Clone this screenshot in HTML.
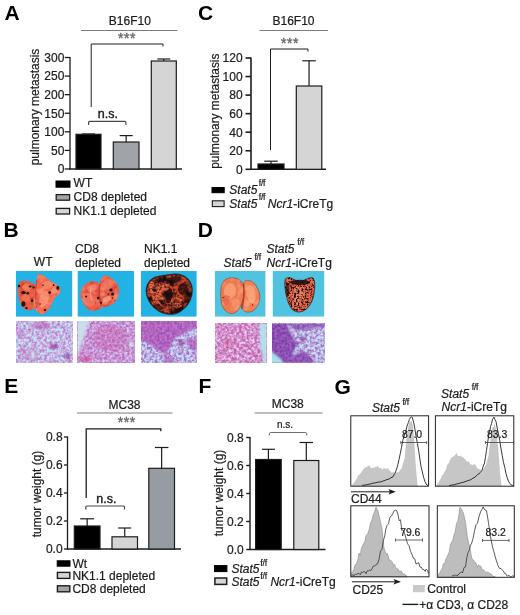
<!DOCTYPE html>
<html lang="en">
<head>
<meta charset="utf-8">
<title>Figure</title>
<style>
html,body{margin:0;padding:0;background:#fff;}
body{width:520px;height:615px;overflow:hidden;}
svg{display:block;font-family:"Liberation Sans",sans-serif;}
svg text{stroke:#1d1d1d;stroke-width:.22px;}
svg text.st{stroke:#686868;stroke-width:.4px;}
svg text.ns{stroke-width:.4px;}
svg text.pl{stroke:none;}
</style>
</head>
<body>
<svg width="520" height="615" viewBox="0 0 520 615">
<rect width="520" height="615" fill="#fff"/>
<defs>
<filter id="b03" x="-10%" y="-10%" width="120%" height="120%"><feGaussianBlur stdDeviation="0.35"/></filter>
<filter id="b06" x="-10%" y="-10%" width="120%" height="120%"><feGaussianBlur stdDeviation="0.6"/></filter>
<filter id="b1" x="-20%" y="-20%" width="140%" height="140%"><feGaussianBlur stdDeviation="1"/></filter>
<filter id="b2" x="-30%" y="-30%" width="160%" height="160%"><feGaussianBlur stdDeviation="2"/></filter>
<filter id="hA" x="0" y="0" width="100%" height="100%" color-interpolation-filters="sRGB">
 <feTurbulence type="fractalNoise" baseFrequency="0.38" numOctaves="2" seed="4" result="n"/>
 <feColorMatrix in="n" type="matrix" values="2.6 0 0 0 -0.880  0 2.6 0 0 -0.8  0 0 0 0 0  0 0 0 0 1"/>
 <feColorMatrix type="matrix" values="-0.020 0.12 0 0 0.720  -0.410 -0.06 0 0 0.920  -0.160 -0.05 0 0 0.985  0 0 0 0 1"/>
 <feGaussianBlur stdDeviation="0.45"/>
</filter>
<filter id="hB" x="0" y="0" width="100%" height="100%" color-interpolation-filters="sRGB">
 <feTurbulence type="fractalNoise" baseFrequency="0.4" numOctaves="2" seed="11" result="n"/>
 <feColorMatrix in="n" type="matrix" values="2.3 0 0 0 -0.550  0 2.6 0 0 -0.8  0 0 0 0 0  0 0 0 0 1"/>
 <feColorMatrix type="matrix" values="-0.160 0.12 0 0 0.820  -0.360 -0.06 0 0 0.830  -0.180 -0.05 0 0 0.965  0 0 0 0 1"/>
 <feGaussianBlur stdDeviation="0.45"/>
</filter>
<filter id="hC" x="0" y="0" width="100%" height="100%" color-interpolation-filters="sRGB">
 <feTurbulence type="fractalNoise" baseFrequency="0.38" numOctaves="2" seed="23" result="n"/>
 <feColorMatrix in="n" type="matrix" values="2.6 0 0 0 -0.900  0 2.6 0 0 -0.8  0 0 0 0 0  0 0 0 0 1"/>
 <feColorMatrix type="matrix" values="-0.120 0.12 0 0 0.720  -0.460 -0.06 0 0 0.910  -0.170 -0.05 0 0 0.975  0 0 0 0 1"/>
 <feGaussianBlur stdDeviation="0.45"/>
</filter>
<filter id="hD" x="0" y="0" width="100%" height="100%" color-interpolation-filters="sRGB">
 <feTurbulence type="fractalNoise" baseFrequency="0.38" numOctaves="2" seed="31" result="n"/>
 <feColorMatrix in="n" type="matrix" values="2.4 0 0 0 -0.600  0 2.6 0 0 -0.8  0 0 0 0 0  0 0 0 0 1"/>
 <feColorMatrix type="matrix" values="-0.120 0.06 0 0 0.870  -0.470 -0.04 0 0 0.870  -0.250 -0.04 0 0 0.970  0 0 0 0 1"/>
 <feGaussianBlur stdDeviation="0.45"/>
</filter>
<filter id="hP" x="0" y="0" width="100%" height="100%" color-interpolation-filters="sRGB">
 <feTurbulence type="fractalNoise" baseFrequency="0.4" numOctaves="2" seed="41" result="n"/>
 <feColorMatrix in="n" type="matrix" values="2.4 0 0 0 -0.700  0 2.6 0 0 -0.8  0 0 0 0 0  0 0 0 0 1"/>
 <feColorMatrix type="matrix" values="-0.140 0.06 0 0 0.730  -0.140 0 0 0 0.460  -0.100 0 0 0 0.800  0 0 0 0 1"/>
 <feGaussianBlur stdDeviation="0.45"/>
</filter>
<filter id="hP2" x="0" y="0" width="100%" height="100%" color-interpolation-filters="sRGB">
 <feTurbulence type="fractalNoise" baseFrequency="0.4" numOctaves="2" seed="43" result="n"/>
 <feColorMatrix in="n" type="matrix" values="2.4 0 0 0 -0.700  0 2.6 0 0 -0.8  0 0 0 0 0  0 0 0 0 1"/>
 <feColorMatrix type="matrix" values="-0.140 0.05 0 0 0.595  -0.140 0 0 0 0.380  -0.120 0 0 0 0.760  0 0 0 0 1"/>
 <feGaussianBlur stdDeviation="0.45"/>
</filter>
<filter id="mot" x="0" y="0" width="100%" height="100%" color-interpolation-filters="sRGB">
 <feTurbulence type="fractalNoise" baseFrequency="0.16" numOctaves="2" seed="5" result="n"/>
 <feColorMatrix in="n" type="matrix" values="0 0 0 0 0.99  0 0 0 0 0.80  0 0 0 0 0.62  3.0 0 0 0 -1.35"/>
 <feComposite in2="SourceGraphic" operator="in"/>
</filter>
<filter id="motd" x="0" y="0" width="100%" height="100%" color-interpolation-filters="sRGB">
 <feTurbulence type="fractalNoise" baseFrequency="0.2" numOctaves="2" seed="9" result="n"/>
 <feColorMatrix in="n" type="matrix" values="0 0 0 0 0.70  0 0 0 0 0.18  0 0 0 0 0.12  0 3.0 0 0 -1.4"/>
 <feComposite in2="SourceGraphic" operator="in"/>
</filter>
<filter id="dk" x="0" y="0" width="100%" height="100%" color-interpolation-filters="sRGB">
 <feTurbulence type="fractalNoise" baseFrequency="0.13" numOctaves="3" seed="3" result="n"/>
 <feColorMatrix in="n" type="matrix" values="0 0 0 0 0.10  0 0 0 0 0.04  0 0 0 0 0.03  4.0 0 0 0 -1.9"/>
 <feComposite in2="SourceGraphic" operator="in"/>
</filter>
<filter id="spk" x="0" y="0" width="100%" height="100%" color-interpolation-filters="sRGB">
 <feTurbulence type="fractalNoise" baseFrequency="0.45" numOctaves="2" seed="7" result="n"/>
 <feColorMatrix in="n" type="matrix" values="0 0 0 0 0.12  0 0 0 0 0.05  0 0 0 0 0.04  3.5 0 0 0 -1.55"/>
 <feComposite in2="SourceGraphic" operator="in"/>
</filter>
<filter id="spk2" x="0" y="0" width="100%" height="100%" color-interpolation-filters="sRGB">
 <feTurbulence type="fractalNoise" baseFrequency="0.55" numOctaves="2" seed="19" result="n"/>
 <feColorMatrix in="n" type="matrix" values="0 0 0 0 0.10  0 0 0 0 0.04  0 0 0 0 0.04  4.0 0 0 0 -1.75"/>
 <feComposite in2="SourceGraphic" operator="in"/>
</filter>
</defs>
<text x="4.4" y="19.8" font-size="21" font-weight="bold" fill="#000" class="pl">A</text>
<text x="129.8" y="24.6" font-size="12" text-anchor="middle" fill="#1d1d1d">B16F10</text>
<line x1="81" y1="30.5" x2="177.5" y2="30.5" stroke="#7c7c7c" stroke-width="1.0"/>
<text x="127" y="42.5" font-size="14" text-anchor="middle" fill="#686868" class="st" letter-spacing="0.6">***</text>
<path d="M91.2 107 V44 H163 V46.5" fill="none" stroke="#1d1d1d" stroke-width="1.0"/>
<line x1="70" y1="56.9" x2="70" y2="169.6" stroke="#1d1d1d" stroke-width="1.3"/>
<line x1="69.4" y1="169" x2="182" y2="169" stroke="#1d1d1d" stroke-width="1.3"/>
<line x1="64.7" y1="57.5" x2="70" y2="57.5" stroke="#1d1d1d" stroke-width="1.3"/>
<text x="64.4" y="61.8" font-size="12" text-anchor="end" fill="#1d1d1d">300</text>
<line x1="64.7" y1="76.08" x2="70" y2="76.08" stroke="#1d1d1d" stroke-width="1.3"/>
<text x="64.4" y="80.38" font-size="12" text-anchor="end" fill="#1d1d1d">250</text>
<line x1="64.7" y1="94.66" x2="70" y2="94.66" stroke="#1d1d1d" stroke-width="1.3"/>
<text x="64.4" y="98.96" font-size="12" text-anchor="end" fill="#1d1d1d">200</text>
<line x1="64.7" y1="113.24" x2="70" y2="113.24" stroke="#1d1d1d" stroke-width="1.3"/>
<text x="64.4" y="117.53999999999999" font-size="12" text-anchor="end" fill="#1d1d1d">150</text>
<line x1="64.7" y1="131.82" x2="70" y2="131.82" stroke="#1d1d1d" stroke-width="1.3"/>
<text x="64.4" y="136.12" font-size="12" text-anchor="end" fill="#1d1d1d">100</text>
<line x1="64.7" y1="150.39999999999998" x2="70" y2="150.39999999999998" stroke="#1d1d1d" stroke-width="1.3"/>
<text x="64.4" y="154.7" font-size="12" text-anchor="end" fill="#1d1d1d">50</text>
<line x1="64.7" y1="168.98" x2="70" y2="168.98" stroke="#1d1d1d" stroke-width="1.3"/>
<text x="64.4" y="173.28" font-size="12" text-anchor="end" fill="#1d1d1d">0</text>
<text transform="translate(39,107) rotate(-90)" font-size="12" text-anchor="middle" fill="#1d1d1d">pulmonary metastasis</text>
<rect x="76" y="134.3" width="25" height="34.69999999999999" fill="#000" stroke="#1d1d1d" stroke-width="1.2"/>
<line x1="82" y1="133.9" x2="95" y2="133.9" stroke="#1d1d1d" stroke-width="1.0"/>
<rect x="113.3" y="142" width="25.700000000000003" height="27" fill="#a0a3a8" stroke="#1d1d1d" stroke-width="1.2"/>
<line x1="126.15" y1="142" x2="126.15" y2="135.6" stroke="#1d1d1d" stroke-width="1.2"/>
<line x1="119.65" y1="135.6" x2="132.65" y2="135.6" stroke="#1d1d1d" stroke-width="1.2"/>
<rect x="151.3" y="61" width="25.0" height="108" fill="#d5d5d6" stroke="#1d1d1d" stroke-width="1.2"/>
<line x1="163.8" y1="61" x2="163.8" y2="59" stroke="#1d1d1d" stroke-width="1.2"/>
<line x1="157.3" y1="59" x2="170.3" y2="59" stroke="#1d1d1d" stroke-width="1.2"/>
<text x="107.8" y="117.8" font-size="12.5" text-anchor="middle" fill="#1d1d1d" class="ns">n.s.</text>
<path d="M88.6 124.9 V122.4 Q88.6 121.4 89.6 121.4 H124.9 Q125.9 121.4 125.9 122.4 V124.9" fill="none" stroke="#4a4a4a" stroke-width="1.2"/>
<rect x="56" y="181" width="14" height="6.2" fill="#000" stroke="#000" stroke-width="1"/>
<rect x="56.2" y="194.6" width="13.4" height="5.6" fill="#a0a3a8" stroke="#1d1d1d" stroke-width="1.3"/>
<rect x="56.2" y="208.4" width="13.4" height="5.6" fill="#d5d5d6" stroke="#1d1d1d" stroke-width="1.3"/>
<text x="73.6" y="187.4" font-size="12" fill="#1d1d1d">WT</text>
<text x="73.6" y="201.0" font-size="12" fill="#1d1d1d">CD8 depleted</text>
<text x="73.6" y="214.8" font-size="12" fill="#1d1d1d">NK1.1 depleted</text>
<text x="198" y="20" font-size="21" font-weight="bold" fill="#000" class="pl">C</text>
<text x="293.5" y="24.6" font-size="12" text-anchor="middle" fill="#1d1d1d">B16F10</text>
<line x1="259.5" y1="30.5" x2="328" y2="30.5" stroke="#7c7c7c" stroke-width="1.0"/>
<text x="290" y="47.8" font-size="14" text-anchor="middle" fill="#686868" class="st" letter-spacing="0.6">***</text>
<path d="M270.5 150 V49 H308 V51.5" fill="none" stroke="#1d1d1d" stroke-width="1.0"/>
<line x1="251" y1="57.4" x2="251" y2="169.9" stroke="#1d1d1d" stroke-width="1.6"/>
<line x1="250.4" y1="169.3" x2="326" y2="169.3" stroke="#1d1d1d" stroke-width="1.6"/>
<line x1="245.5" y1="58.0" x2="251" y2="58.0" stroke="#1d1d1d" stroke-width="1.6"/>
<text x="242.6" y="62.3" font-size="12" text-anchor="end" fill="#1d1d1d">120</text>
<line x1="245.5" y1="76.55" x2="251" y2="76.55" stroke="#1d1d1d" stroke-width="1.6"/>
<text x="242.6" y="80.85" font-size="12" text-anchor="end" fill="#1d1d1d">100</text>
<line x1="245.5" y1="95.1" x2="251" y2="95.1" stroke="#1d1d1d" stroke-width="1.6"/>
<text x="242.6" y="99.39999999999999" font-size="12" text-anchor="end" fill="#1d1d1d">80</text>
<line x1="245.5" y1="113.65" x2="251" y2="113.65" stroke="#1d1d1d" stroke-width="1.6"/>
<text x="242.6" y="117.95" font-size="12" text-anchor="end" fill="#1d1d1d">60</text>
<line x1="245.5" y1="132.2" x2="251" y2="132.2" stroke="#1d1d1d" stroke-width="1.6"/>
<text x="242.6" y="136.5" font-size="12" text-anchor="end" fill="#1d1d1d">40</text>
<line x1="245.5" y1="150.75" x2="251" y2="150.75" stroke="#1d1d1d" stroke-width="1.6"/>
<text x="242.6" y="155.05" font-size="12" text-anchor="end" fill="#1d1d1d">20</text>
<line x1="245.5" y1="169.3" x2="251" y2="169.3" stroke="#1d1d1d" stroke-width="1.6"/>
<text x="242.6" y="173.60000000000002" font-size="12" text-anchor="end" fill="#1d1d1d">0</text>
<text transform="translate(219,111.2) rotate(-90)" font-size="11.85" text-anchor="middle" fill="#1d1d1d">pulmonary metastasis</text>
<rect x="258" y="164" width="26" height="5.300000000000011" fill="#000" stroke="#1d1d1d" stroke-width="1.2"/>
<line x1="271.0" y1="164" x2="271.0" y2="161.2" stroke="#1d1d1d" stroke-width="1.2"/>
<line x1="264.25" y1="161.2" x2="277.75" y2="161.2" stroke="#1d1d1d" stroke-width="1.2"/>
<rect x="296.3" y="86" width="25.5" height="83.30000000000001" fill="#d5d5d6" stroke="#1d1d1d" stroke-width="1.2"/>
<line x1="309.05" y1="86" x2="309.05" y2="60.8" stroke="#1d1d1d" stroke-width="1.2"/>
<line x1="302.3" y1="60.8" x2="315.8" y2="60.8" stroke="#1d1d1d" stroke-width="1.2"/>
<rect x="212" y="187.5" width="12.2" height="5.2" fill="#000" stroke="#000" stroke-width="1"/>
<rect x="212.3" y="200.8" width="11.8" height="5.8" fill="#d5d5d6" stroke="#1d1d1d" stroke-width="1.1"/>
<text x="229.3" y="193.6" font-size="12" fill="#1d1d1d"><tspan font-style="italic">Stat5</tspan><tspan font-size="8.7" font-style="normal" letter-spacing="-0.25" dx="1.4" dy="-7.8">f/f</tspan></text>
<text x="229.3" y="208.0" font-size="12" fill="#1d1d1d"><tspan font-style="italic">Stat5</tspan><tspan font-size="8.7" font-style="normal" letter-spacing="-0.25" dx="1.4" dy="-7.8">f/f</tspan><tspan dx="2.6" dy="7.8" font-style="italic">Ncr1</tspan>-iCreTg</text>
<text x="3.6" y="236.9" font-size="21" font-weight="bold" fill="#000" class="pl">B</text>
<text x="43.2" y="266.4" font-size="12" text-anchor="middle" fill="#1d1d1d">WT</text>
<text x="75.0" y="252.5" font-size="12" fill="#1d1d1d">CD8</text>
<text x="75.0" y="266.5" font-size="12" fill="#1d1d1d">depleted</text>
<text x="144.0" y="252.5" font-size="12" fill="#1d1d1d">NK1.1</text>
<text x="144.0" y="266.5" font-size="12" fill="#1d1d1d">depleted</text>
<clipPath id="pB1"><rect x="16" y="271" width="56.2" height="45.6"/></clipPath>
<rect x="16" y="271" width="56.2" height="45.6" fill="#22b2e4"/>
<g clip-path="url(#pB1)"><g filter="url(#b06)">
<path d="M18.1 285.2 C18.5 283.8 19.2 282.6 20.1 281.8 C21.0 281.0 22.1 280.6 23.5 280.5 C24.9 280.4 27.1 280.6 28.8 281.2 C30.5 281.8 32.2 283.0 33.6 283.8 C35.0 284.6 36.2 284.0 37.0 286.0 C37.8 288.0 38.3 292.7 38.5 296.0 C38.7 299.3 38.8 303.8 38.0 306.0 C37.2 308.2 35.2 308.3 33.5 309.0 C31.8 309.7 29.2 310.4 27.5 310.2 C25.8 310.0 24.7 309.2 23.5 308.0 C22.3 306.8 21.0 304.7 20.1 302.7 C19.2 300.7 18.5 298.1 18.1 296.0 C17.7 293.9 17.6 291.8 17.6 290.0 C17.6 288.2 17.7 286.6 18.1 285.2Z" fill="#ec5a44"/>
<path d="M38.3 274.4 C39.2 273.8 40.5 274.1 42.3 275.0 C44.1 275.9 47.0 278.4 49.0 279.8 C51.0 281.2 52.7 282.1 54.4 283.2 C56.1 284.3 58.1 285.4 59.1 286.5 C60.1 287.6 60.5 288.6 60.5 289.9 C60.5 291.1 60.0 292.8 59.1 294.0 C58.2 295.2 56.1 296.1 55.1 297.3 C54.1 298.5 53.9 299.7 53.1 301.3 C52.3 302.9 51.5 304.9 50.4 306.7 C49.3 308.5 47.6 310.9 46.3 312.1 C44.9 313.3 43.6 314.0 42.3 314.1 C41.0 314.2 39.4 313.7 38.3 312.8 C37.2 311.9 36.2 310.8 35.6 308.7 C35.0 306.6 34.5 303.1 34.5 300.0 C34.5 296.9 35.2 292.7 35.5 290.0 C35.8 287.3 36.0 285.7 36.2 283.8 C36.4 281.9 36.5 280.1 36.9 278.5 C37.2 276.9 37.4 275.0 38.3 274.4Z" fill="#f3664e"/>
<path d="M18.1 285.2 C18.5 283.8 19.2 282.6 20.1 281.8 C21.0 281.0 22.1 280.6 23.5 280.5 C24.9 280.4 27.1 280.6 28.8 281.2 C30.5 281.8 32.2 283.0 33.6 283.8 C35.0 284.6 36.2 284.0 37.0 286.0 C37.8 288.0 38.3 292.7 38.5 296.0 C38.7 299.3 38.8 303.8 38.0 306.0 C37.2 308.2 35.2 308.3 33.5 309.0 C31.8 309.7 29.2 310.4 27.5 310.2 C25.8 310.0 24.7 309.2 23.5 308.0 C22.3 306.8 21.0 304.7 20.1 302.7 C19.2 300.7 18.5 298.1 18.1 296.0 C17.7 293.9 17.6 291.8 17.6 290.0 C17.6 288.2 17.7 286.6 18.1 285.2Z" fill="#000" filter="url(#motd)" opacity="0.8"/>
<path d="M38.3 274.4 C39.2 273.8 40.5 274.1 42.3 275.0 C44.1 275.9 47.0 278.4 49.0 279.8 C51.0 281.2 52.7 282.1 54.4 283.2 C56.1 284.3 58.1 285.4 59.1 286.5 C60.1 287.6 60.5 288.6 60.5 289.9 C60.5 291.1 60.0 292.8 59.1 294.0 C58.2 295.2 56.1 296.1 55.1 297.3 C54.1 298.5 53.9 299.7 53.1 301.3 C52.3 302.9 51.5 304.9 50.4 306.7 C49.3 308.5 47.6 310.9 46.3 312.1 C44.9 313.3 43.6 314.0 42.3 314.1 C41.0 314.2 39.4 313.7 38.3 312.8 C37.2 311.9 36.2 310.8 35.6 308.7 C35.0 306.6 34.5 303.1 34.5 300.0 C34.5 296.9 35.2 292.7 35.5 290.0 C35.8 287.3 36.0 285.7 36.2 283.8 C36.4 281.9 36.5 280.1 36.9 278.5 C37.2 276.9 37.4 275.0 38.3 274.4Z" fill="#000" filter="url(#mot)" opacity="0.4"/>
<path d="M18.1 285.2 C18.5 283.8 19.2 282.6 20.1 281.8 C21.0 281.0 22.1 280.6 23.5 280.5 C24.9 280.4 27.1 280.6 28.8 281.2 C30.5 281.8 32.2 283.0 33.6 283.8 C35.0 284.6 36.2 284.0 37.0 286.0 C37.8 288.0 38.3 292.7 38.5 296.0 C38.7 299.3 38.8 303.8 38.0 306.0 C37.2 308.2 35.2 308.3 33.5 309.0 C31.8 309.7 29.2 310.4 27.5 310.2 C25.8 310.0 24.7 309.2 23.5 308.0 C22.3 306.8 21.0 304.7 20.1 302.7 C19.2 300.7 18.5 298.1 18.1 296.0 C17.7 293.9 17.6 291.8 17.6 290.0 C17.6 288.2 17.7 286.6 18.1 285.2Z" fill="#000" filter="url(#mot)" opacity="0.25"/>
<ellipse cx="27" cy="287" rx="5" ry="3" fill="#f48a60" opacity="0.7"/>
<ellipse cx="26" cy="298" rx="4" ry="4" fill="#f2805c" opacity="0.6"/>
<ellipse cx="44" cy="299" rx="4.5" ry="8.5" fill="#f9a888" opacity="0.55" transform="rotate(15 44 299)"/>
<ellipse cx="47" cy="285" rx="5" ry="4" fill="#f58e6c" opacity="0.6"/>
<ellipse cx="54" cy="291" rx="3" ry="3" fill="#f7a080" opacity="0.6"/>
<path d="M36.8 280 C35.6 288 35.2 298 36.4 308" fill="none" stroke="#c2402e" stroke-width="1.3" opacity="0.7"/>
<ellipse cx="18.9" cy="286" rx="1.1" ry="1.3" fill="#2a1210"/>
<ellipse cx="23.5" cy="292.6" rx="2.4" ry="1.7" fill="#2a1210"/>
<ellipse cx="27.8" cy="293.3" rx="1.4" ry="1.2" fill="#2a1210"/>
<ellipse cx="30.2" cy="286.5" rx="1.5" ry="1.1" fill="#2a1210"/>
<ellipse cx="33.6" cy="287.4" rx="1.1" ry="1.0" fill="#2a1210"/>
<ellipse cx="23.3" cy="304" rx="2.0" ry="2.8" fill="#2a1210"/>
<ellipse cx="26.4" cy="308" rx="1.4" ry="1.1" fill="#2a1210"/>
<ellipse cx="32.2" cy="300.7" rx="1.2" ry="1.6" fill="#2a1210"/>
<ellipse cx="49.7" cy="292.6" rx="1.4" ry="1.3" fill="#2a1210"/>
<ellipse cx="57.8" cy="287.9" rx="1.5" ry="1.9" fill="#2a1210"/>
<ellipse cx="53.7" cy="285.2" rx="0.9" ry="0.9" fill="#2a1210"/>
<ellipse cx="45" cy="310" rx="1.2" ry="1.0" fill="#2a1210"/>
<ellipse cx="43" cy="285.2" rx="0.8" ry="0.8" fill="#2a1210"/>
<ellipse cx="40" cy="304" rx="0.8" ry="0.8" fill="#2a1210"/>
</g></g>
<clipPath id="pB2"><rect x="77.7" y="271" width="56.3" height="45.6"/></clipPath>
<rect x="77.7" y="271" width="56.3" height="45.6" fill="#22b2e4"/>
<g clip-path="url(#pB2)"><g filter="url(#b06)">
<path d="M80.7 294.0 C80.8 292.1 81.1 289.7 82.1 287.9 C83.1 286.1 85.1 284.3 86.8 283.2 C88.5 282.1 90.5 281.4 92.2 281.2 C93.9 281.0 95.7 281.3 96.9 281.8 C98.1 282.3 98.7 284.6 99.4 284.2 C100.1 283.8 100.1 280.5 100.9 279.1 C101.7 277.7 103.0 276.2 104.3 275.8 C105.6 275.4 107.4 275.7 109.0 276.4 C110.6 277.1 112.2 278.3 113.7 279.8 C115.2 281.3 116.9 283.4 117.8 285.2 C118.7 287.0 119.1 288.6 119.1 290.6 C119.1 292.6 118.6 295.3 117.8 297.3 C117.0 299.3 115.8 301.4 114.4 302.7 C113.1 304.0 111.2 304.7 109.7 305.4 C108.2 306.1 107.1 306.3 105.6 306.7 C104.1 307.1 102.6 307.3 100.9 308.0 C99.2 308.7 97.5 310.5 95.6 310.8 C93.7 311.1 91.3 310.9 89.5 310.0 C87.7 309.1 86.1 307.2 84.8 305.4 C83.5 303.6 82.1 301.2 81.4 299.3 C80.7 297.4 80.6 295.9 80.7 294.0Z" fill="#ee5e4c"/>
<path d="M80.7 294.0 C80.8 292.1 81.1 289.7 82.1 287.9 C83.1 286.1 85.1 284.3 86.8 283.2 C88.5 282.1 90.5 281.4 92.2 281.2 C93.9 281.0 95.7 281.3 96.9 281.8 C98.1 282.3 98.7 284.6 99.4 284.2 C100.1 283.8 100.1 280.5 100.9 279.1 C101.7 277.7 103.0 276.2 104.3 275.8 C105.6 275.4 107.4 275.7 109.0 276.4 C110.6 277.1 112.2 278.3 113.7 279.8 C115.2 281.3 116.9 283.4 117.8 285.2 C118.7 287.0 119.1 288.6 119.1 290.6 C119.1 292.6 118.6 295.3 117.8 297.3 C117.0 299.3 115.8 301.4 114.4 302.7 C113.1 304.0 111.2 304.7 109.7 305.4 C108.2 306.1 107.1 306.3 105.6 306.7 C104.1 307.1 102.6 307.3 100.9 308.0 C99.2 308.7 97.5 310.5 95.6 310.8 C93.7 311.1 91.3 310.9 89.5 310.0 C87.7 309.1 86.1 307.2 84.8 305.4 C83.5 303.6 82.1 301.2 81.4 299.3 C80.7 297.4 80.6 295.9 80.7 294.0Z" fill="#000" filter="url(#mot)" opacity="0.35"/>
<path d="M80.7 294.0 C80.8 292.1 81.1 289.7 82.1 287.9 C83.1 286.1 85.1 284.3 86.8 283.2 C88.5 282.1 90.5 281.4 92.2 281.2 C93.9 281.0 95.7 281.3 96.9 281.8 C98.1 282.3 98.7 284.6 99.4 284.2 C100.1 283.8 100.1 280.5 100.9 279.1 C101.7 277.7 103.0 276.2 104.3 275.8 C105.6 275.4 107.4 275.7 109.0 276.4 C110.6 277.1 112.2 278.3 113.7 279.8 C115.2 281.3 116.9 283.4 117.8 285.2 C118.7 287.0 119.1 288.6 119.1 290.6 C119.1 292.6 118.6 295.3 117.8 297.3 C117.0 299.3 115.8 301.4 114.4 302.7 C113.1 304.0 111.2 304.7 109.7 305.4 C108.2 306.1 107.1 306.3 105.6 306.7 C104.1 307.1 102.6 307.3 100.9 308.0 C99.2 308.7 97.5 310.5 95.6 310.8 C93.7 311.1 91.3 310.9 89.5 310.0 C87.7 309.1 86.1 307.2 84.8 305.4 C83.5 303.6 82.1 301.2 81.4 299.3 C80.7 297.4 80.6 295.9 80.7 294.0Z" fill="#000" filter="url(#motd)" opacity="0.5"/>
<ellipse cx="89" cy="300" rx="6" ry="7" fill="#f47a64" opacity="0.7" transform="rotate(-20 89 300)"/>
<ellipse cx="92" cy="288" rx="5" ry="3.5" fill="#f6866c" opacity="0.7" transform="rotate(-20 92 288)"/>
<ellipse cx="108" cy="284" rx="5" ry="5" fill="#f58068" opacity="0.7"/>
<ellipse cx="107" cy="299" rx="4.5" ry="2.6" fill="#f9b898" opacity="0.6" transform="rotate(-15 107 299)"/>
<ellipse cx="112" cy="292" rx="3" ry="4" fill="#d84a3c" opacity="0.6"/>
<path d="M100 284 C98.5 291 99 299 101.5 306" fill="none" stroke="#b8382c" stroke-width="1.6" opacity="0.75"/>
<path d="M91 287 C90 292 90.5 297 92 301" fill="none" stroke="#f9b0a0" stroke-width="0.9" opacity="0.8"/>
<ellipse cx="86.1" cy="296.6" rx="1.0" ry="1.0" fill="#2a1210"/>
<ellipse cx="111" cy="289.9" rx="1.7" ry="1.5" fill="#2a1210"/>
<ellipse cx="112.6" cy="293.9" rx="1.5" ry="1.5" fill="#2a1210"/>
<ellipse cx="98.2" cy="298" rx="1.3" ry="1.5" fill="#2a1210"/>
<ellipse cx="100.9" cy="302.7" rx="1.2" ry="1.0" fill="#2a1210"/>
<ellipse cx="112.4" cy="298" rx="0.8" ry="0.8" fill="#2a1210"/>
<ellipse cx="108.5" cy="294" rx="0.8" ry="0.8" fill="#2a1210"/>
</g></g>
<clipPath id="pB3"><rect x="141" y="271" width="55.6" height="45.6"/></clipPath>
<rect x="141" y="271" width="55.6" height="45.6" fill="#22b2e4"/>
<g clip-path="url(#pB3)"><g filter="url(#b06)">
<path d="M146.4 291.0 C146.4 289.0 146.8 286.8 147.5 285.0 C148.2 283.2 149.2 281.8 150.5 280.5 C151.8 279.2 153.4 278.2 155.0 277.5 C156.6 276.8 158.3 276.5 160.0 276.2 C161.7 275.9 163.5 275.8 165.0 275.6 C166.5 275.4 167.3 275.0 169.0 274.8 C170.7 274.6 173.0 274.2 175.0 274.2 C177.0 274.2 179.2 274.4 181.0 275.0 C182.8 275.6 184.5 276.3 186.0 277.5 C187.5 278.7 189.0 280.2 190.0 282.0 C191.0 283.8 191.7 286.0 192.0 288.0 C192.3 290.0 192.1 292.0 191.8 294.0 C191.5 296.0 190.8 298.2 190.0 300.0 C189.2 301.8 188.2 303.5 187.0 305.0 C185.8 306.5 184.5 307.8 183.0 309.0 C181.5 310.2 179.8 311.7 178.0 312.5 C176.2 313.3 174.0 313.8 172.0 314.0 C170.0 314.2 168.0 313.9 166.0 313.5 C164.0 313.1 161.8 312.4 160.0 311.5 C158.2 310.6 156.6 309.4 155.0 308.0 C153.4 306.6 151.8 304.8 150.5 303.0 C149.2 301.2 148.2 299.0 147.5 297.0 C146.8 295.0 146.4 293.0 146.4 291.0Z" fill="#c8462f"/>
<ellipse cx="160" cy="294" rx="9" ry="10" fill="#ee6848" opacity="0.85"/>
<ellipse cx="176" cy="303" rx="7" ry="6" fill="#e86044" opacity="0.8"/>
<ellipse cx="152" cy="287" rx="3.5" ry="6" fill="#f07050" opacity="0.8"/>
<ellipse cx="165" cy="283" rx="4" ry="3" fill="#d8603c" opacity="0.6"/>
<path d="M146.4 291.0 C146.4 289.0 146.8 286.8 147.5 285.0 C148.2 283.2 149.2 281.8 150.5 280.5 C151.8 279.2 153.4 278.2 155.0 277.5 C156.6 276.8 158.3 276.5 160.0 276.2 C161.7 275.9 163.5 275.8 165.0 275.6 C166.5 275.4 167.3 275.0 169.0 274.8 C170.7 274.6 173.0 274.2 175.0 274.2 C177.0 274.2 179.2 274.4 181.0 275.0 C182.8 275.6 184.5 276.3 186.0 277.5 C187.5 278.7 189.0 280.2 190.0 282.0 C191.0 283.8 191.7 286.0 192.0 288.0 C192.3 290.0 192.1 292.0 191.8 294.0 C191.5 296.0 190.8 298.2 190.0 300.0 C189.2 301.8 188.2 303.5 187.0 305.0 C185.8 306.5 184.5 307.8 183.0 309.0 C181.5 310.2 179.8 311.7 178.0 312.5 C176.2 313.3 174.0 313.8 172.0 314.0 C170.0 314.2 168.0 313.9 166.0 313.5 C164.0 313.1 161.8 312.4 160.0 311.5 C158.2 310.6 156.6 309.4 155.0 308.0 C153.4 306.6 151.8 304.8 150.5 303.0 C149.2 301.2 148.2 299.0 147.5 297.0 C146.8 295.0 146.4 293.0 146.4 291.0Z" fill="#000" filter="url(#dk)"/>
<path d="M146.4 291.0 C146.4 289.0 146.8 286.8 147.5 285.0 C148.2 283.2 149.2 281.8 150.5 280.5 C151.8 279.2 153.4 278.2 155.0 277.5 C156.6 276.8 158.3 276.5 160.0 276.2 C161.7 275.9 163.5 275.8 165.0 275.6 C166.5 275.4 167.3 275.0 169.0 274.8 C170.7 274.6 173.0 274.2 175.0 274.2 C177.0 274.2 179.2 274.4 181.0 275.0 C182.8 275.6 184.5 276.3 186.0 277.5 C187.5 278.7 189.0 280.2 190.0 282.0 C191.0 283.8 191.7 286.0 192.0 288.0 C192.3 290.0 192.1 292.0 191.8 294.0 C191.5 296.0 190.8 298.2 190.0 300.0 C189.2 301.8 188.2 303.5 187.0 305.0 C185.8 306.5 184.5 307.8 183.0 309.0 C181.5 310.2 179.8 311.7 178.0 312.5 C176.2 313.3 174.0 313.8 172.0 314.0 C170.0 314.2 168.0 313.9 166.0 313.5 C164.0 313.1 161.8 312.4 160.0 311.5 C158.2 310.6 156.6 309.4 155.0 308.0 C153.4 306.6 151.8 304.8 150.5 303.0 C149.2 301.2 148.2 299.0 147.5 297.0 C146.8 295.0 146.4 293.0 146.4 291.0Z" fill="#000" filter="url(#spk)" opacity="0.7"/>
<ellipse cx="169" cy="296" rx="3.4" ry="7.5" fill="#1c0a08" opacity="0.85" transform="rotate(10 169 296)"/>
<ellipse cx="183" cy="289" rx="5" ry="6" fill="#1c0a08" opacity="0.7"/>
<ellipse cx="174" cy="280" rx="8" ry="3.2" fill="#1c0a08" opacity="0.7" transform="rotate(-10 174 280)"/>
<ellipse cx="187" cy="298" rx="3" ry="5" fill="#1c0a08" opacity="0.6"/>
<ellipse cx="158" cy="307" rx="5" ry="2.5" fill="#1c0a08" opacity="0.6" transform="rotate(20 158 307)"/>
<ellipse cx="157" cy="281" rx="4" ry="2" fill="#1c0a08" opacity="0.55" transform="rotate(-25 157 281)"/>
<path d="M146.4 291.0 C146.4 289.0 146.8 286.8 147.5 285.0 C148.2 283.2 149.2 281.8 150.5 280.5 C151.8 279.2 153.4 278.2 155.0 277.5 C156.6 276.8 158.3 276.5 160.0 276.2 C161.7 275.9 163.5 275.8 165.0 275.6 C166.5 275.4 167.3 275.0 169.0 274.8 C170.7 274.6 173.0 274.2 175.0 274.2 C177.0 274.2 179.2 274.4 181.0 275.0 C182.8 275.6 184.5 276.3 186.0 277.5 C187.5 278.7 189.0 280.2 190.0 282.0 C191.0 283.8 191.7 286.0 192.0 288.0 C192.3 290.0 192.1 292.0 191.8 294.0 C191.5 296.0 190.8 298.2 190.0 300.0 C189.2 301.8 188.2 303.5 187.0 305.0 C185.8 306.5 184.5 307.8 183.0 309.0 C181.5 310.2 179.8 311.7 178.0 312.5 C176.2 313.3 174.0 313.8 172.0 314.0 C170.0 314.2 168.0 313.9 166.0 313.5 C164.0 313.1 161.8 312.4 160.0 311.5 C158.2 310.6 156.6 309.4 155.0 308.0 C153.4 306.6 151.8 304.8 150.5 303.0 C149.2 301.2 148.2 299.0 147.5 297.0 C146.8 295.0 146.4 293.0 146.4 291.0Z" fill="none" stroke="#24100c" stroke-width="1.5" opacity="0.75"/>
</g></g>
<clipPath id="cB1"><rect x="16" y="321" width="56.2" height="41.8"/></clipPath>
<rect x="16" y="321" width="56.2" height="41.8" filter="url(#hA)"/>
<g clip-path="url(#cB1)"><g filter="url(#b1)">
<ellipse cx="41" cy="326" rx="9" ry="4" fill="#b659ae" opacity="0.55"/>
<ellipse cx="54" cy="346.5" rx="4.2" ry="2.4" fill="#9a3f9e" opacity="0.85"/>
<ellipse cx="67.5" cy="356" rx="3" ry="3.2" fill="#8c3a94" opacity="0.7"/>
<ellipse cx="21" cy="332" rx="3" ry="4" fill="#b659ae" opacity="0.4"/>
<ellipse cx="33" cy="355" rx="3.2" ry="5.2" fill="#cfe4f0" stroke="#b04ca4" stroke-width="1.6" opacity="0.8"/>
<ellipse cx="23" cy="353" rx="2" ry="5" fill="none" stroke="#b04ca4" stroke-width="1.4" opacity="0.6"/>
</g></g>
<clipPath id="cB2"><rect x="77.7" y="321" width="56.4" height="41.8"/></clipPath>
<rect x="77.7" y="321" width="56.4" height="41.8" filter="url(#hB)"/>
<g clip-path="url(#cB2)"><g filter="url(#b1)">
<path d="M76 319 L90 319 L86.5 330 L83 340 L79.5 351 L76 354 Z" fill="#c9e0ea" opacity="0.96"/>
<ellipse cx="110" cy="338" rx="17" ry="13" fill="#c65aa6" opacity="0.35"/>
<ellipse cx="86" cy="358.5" rx="5" ry="2.2" fill="#d43a84" opacity="0.65"/>
<ellipse cx="131" cy="344" rx="2.2" ry="2.5" fill="#d6eaf2" opacity="0.9"/>
</g></g>
<clipPath id="cB3"><rect x="141" y="321" width="55.4" height="41.2"/></clipPath>
<rect x="141" y="321" width="55.4" height="41.2" filter="url(#hC)"/>
<mask id="mB3" maskUnits="userSpaceOnUse" x="139" y="319" width="60" height="46"><g filter="url(#b1)">
<path d="M139 319 L198 319 L198 327 C190 330 183 333 177 337 C171 341 170 349 166 354 C160 352 152 346 146 342 L139 340 Z" fill="#fff"/>
<path d="M187 340 C190 337 196 338 198 342 L198 352 C192 352 188 347 187 340Z" fill="#ddd"/>
<path d="M164 353 C169 355 174 358 178 364 L164 364 Z" fill="#bbb"/>
</g></mask>
<g clip-path="url(#cB3)"><g mask="url(#mB3)">
<rect x="141" y="321" width="55.4" height="41.2" filter="url(#hP)"/>
</g>
<g filter="url(#b1)">
<ellipse cx="181" cy="343" rx="3" ry="3.5" fill="#8c3a9c" opacity="0.7"/>
<ellipse cx="150" cy="330" rx="6" ry="5" fill="#c070c0" opacity="0.35"/>
</g></g>
<text x="197.8" y="236.9" font-size="21" font-weight="bold" fill="#000" class="pl">D</text>
<text x="223.6" y="266.6" font-size="12" fill="#1d1d1d"><tspan font-style="italic">Stat5</tspan><tspan font-size="8.7" font-style="normal" letter-spacing="-0.25" dx="2.8" dy="-6.5">f/f</tspan></text>
<text x="266.5" y="252.5" font-size="12" fill="#1d1d1d"><tspan font-style="italic">Stat5</tspan><tspan font-size="8.7" font-style="normal" letter-spacing="-0.25" dx="2.8" dy="-7.4">f/f</tspan></text>
<text x="266.5" y="266.5" font-size="12" fill="#1d1d1d"><tspan font-style="italic">Ncr1</tspan>-iCreTg</text>
<clipPath id="pD1"><rect x="215" y="271" width="50.4" height="45.6"/></clipPath>
<rect x="215" y="271" width="50.4" height="45.6" fill="#50c3e0"/>
<g clip-path="url(#pD1)"><g filter="url(#b06)">
<path d="M243.7 283.2 C244.2 281.6 245.2 280.8 246.4 280.5 C247.6 280.2 249.5 280.4 251.1 281.2 C252.7 282.0 254.5 283.4 255.8 285.2 C257.1 287.0 258.4 289.7 259.1 291.9 C259.8 294.1 260.0 296.4 259.8 298.6 C259.6 300.9 258.9 303.4 257.8 305.4 C256.7 307.4 254.8 309.7 253.1 310.8 C251.4 311.9 249.4 312.2 247.7 312.1 C246.0 312.0 244.0 311.1 243.0 310.0 C242.0 308.9 241.6 307.6 241.6 305.4 C241.6 303.2 242.7 299.6 243.0 297.0 C243.3 294.4 243.5 292.3 243.6 290.0 C243.7 287.7 243.2 284.8 243.7 283.2Z" fill="#f27e56" stroke="#6a3424" stroke-width="0.9" stroke-opacity="0.55"/>
<path d="M220.8 290.6 C221.0 288.4 221.2 285.7 222.1 283.8 C223.0 281.9 224.5 280.1 226.2 279.1 C227.9 278.1 230.2 277.8 232.2 277.8 C234.2 277.8 236.6 278.2 238.3 279.1 C240.0 280.0 241.4 281.5 242.3 283.2 C243.2 284.9 243.5 286.8 243.7 289.2 C243.9 291.6 243.8 294.6 243.3 297.3 C242.9 300.0 242.1 303.0 241.0 305.4 C239.9 307.8 238.5 310.0 236.9 311.4 C235.3 312.8 233.4 313.5 231.6 313.5 C229.8 313.5 227.8 312.8 226.2 311.4 C224.6 310.0 223.0 307.8 222.1 305.4 C221.2 303.0 221.0 299.8 220.8 297.3 C220.6 294.8 220.6 292.9 220.8 290.6Z" fill="#f07850" stroke="#6a3424" stroke-width="0.9" stroke-opacity="0.55"/>
<path d="M243.7 283.2 C244.2 281.6 245.2 280.8 246.4 280.5 C247.6 280.2 249.5 280.4 251.1 281.2 C252.7 282.0 254.5 283.4 255.8 285.2 C257.1 287.0 258.4 289.7 259.1 291.9 C259.8 294.1 260.0 296.4 259.8 298.6 C259.6 300.9 258.9 303.4 257.8 305.4 C256.7 307.4 254.8 309.7 253.1 310.8 C251.4 311.9 249.4 312.2 247.7 312.1 C246.0 312.0 244.0 311.1 243.0 310.0 C242.0 308.9 241.6 307.6 241.6 305.4 C241.6 303.2 242.7 299.6 243.0 297.0 C243.3 294.4 243.5 292.3 243.6 290.0 C243.7 287.7 243.2 284.8 243.7 283.2Z" fill="#000" filter="url(#mot)" opacity="0.45"/>
<path d="M220.8 290.6 C221.0 288.4 221.2 285.7 222.1 283.8 C223.0 281.9 224.5 280.1 226.2 279.1 C227.9 278.1 230.2 277.8 232.2 277.8 C234.2 277.8 236.6 278.2 238.3 279.1 C240.0 280.0 241.4 281.5 242.3 283.2 C243.2 284.9 243.5 286.8 243.7 289.2 C243.9 291.6 243.8 294.6 243.3 297.3 C242.9 300.0 242.1 303.0 241.0 305.4 C239.9 307.8 238.5 310.0 236.9 311.4 C235.3 312.8 233.4 313.5 231.6 313.5 C229.8 313.5 227.8 312.8 226.2 311.4 C224.6 310.0 223.0 307.8 222.1 305.4 C221.2 303.0 221.0 299.8 220.8 297.3 C220.6 294.8 220.6 292.9 220.8 290.6Z" fill="#000" filter="url(#mot)" opacity="0.45"/>
<ellipse cx="230" cy="291" rx="6" ry="8" fill="#f9a880" opacity="0.7" transform="rotate(10 230 291)"/>
<ellipse cx="236" cy="303" rx="4" ry="5" fill="#f89a74" opacity="0.6"/>
<ellipse cx="251" cy="294" rx="4.5" ry="9" fill="#faae84" opacity="0.7" transform="rotate(-8 251 294)"/>
<ellipse cx="226" cy="300" rx="2.5" ry="5" fill="#d8503c" opacity="0.5"/>
<path d="M243.6 284 C244.6 292 243.8 301 241.8 309" fill="none" stroke="#a83424" stroke-width="1.4" opacity="0.85"/>
<ellipse cx="223.2" cy="297.5" rx="0.8" ry="0.8" fill="#7a2418"/>
<ellipse cx="252.5" cy="305" rx="0.7" ry="0.7" fill="#7a2418"/>
<ellipse cx="229" cy="297" rx="0.6" ry="0.6" fill="#7a2418"/>
</g></g>
<clipPath id="pD2"><rect x="272.8" y="271" width="51.4" height="45.6"/></clipPath>
<rect x="272.8" y="271" width="51.4" height="45.6" fill="#50c3e0"/>
<g clip-path="url(#pD2)"><g filter="url(#b06)">
<path d="M285.5 279.0 C286.3 277.8 287.9 277.3 289.5 277.5 C291.1 277.7 293.1 279.4 295.0 280.0 C296.9 280.6 299.0 281.4 301.0 281.2 C303.0 281.0 305.2 279.6 307.0 279.0 C308.8 278.4 310.8 277.1 312.0 277.5 C313.2 277.9 314.1 279.4 314.5 281.5 C314.9 283.6 314.8 287.2 314.5 290.0 C314.2 292.8 313.8 295.4 313.0 298.0 C312.2 300.6 311.0 303.4 309.5 305.5 C308.0 307.6 305.9 309.4 304.0 310.5 C302.1 311.6 299.9 312.2 298.0 312.0 C296.1 311.8 294.1 311.0 292.5 309.5 C290.9 308.0 289.6 305.6 288.5 303.0 C287.4 300.4 286.6 297.0 286.0 294.0 C285.4 291.0 284.9 287.5 284.8 285.0 C284.7 282.5 284.7 280.2 285.5 279.0Z" fill="#ec6a4c"/>
<ellipse cx="298" cy="296" rx="6" ry="9" fill="#f6906a" opacity="0.6"/>
<path d="M285.5 279.0 C286.3 277.8 287.9 277.3 289.5 277.5 C291.1 277.7 293.1 279.4 295.0 280.0 C296.9 280.6 299.0 281.4 301.0 281.2 C303.0 281.0 305.2 279.6 307.0 279.0 C308.8 278.4 310.8 277.1 312.0 277.5 C313.2 277.9 314.1 279.4 314.5 281.5 C314.9 283.6 314.8 287.2 314.5 290.0 C314.2 292.8 313.8 295.4 313.0 298.0 C312.2 300.6 311.0 303.4 309.5 305.5 C308.0 307.6 305.9 309.4 304.0 310.5 C302.1 311.6 299.9 312.2 298.0 312.0 C296.1 311.8 294.1 311.0 292.5 309.5 C290.9 308.0 289.6 305.6 288.5 303.0 C287.4 300.4 286.6 297.0 286.0 294.0 C285.4 291.0 284.9 287.5 284.8 285.0 C284.7 282.5 284.7 280.2 285.5 279.0Z" fill="#000" filter="url(#spk2)"/>
<ellipse cx="300" cy="282.3" rx="10" ry="2.6" fill="#1c0a08" opacity="0.85"/>
<ellipse cx="287.5" cy="290" rx="2.0" ry="7" fill="#200c0a" opacity="0.65"/>
<path d="M285.5 279.0 C286.3 277.8 287.9 277.3 289.5 277.5 C291.1 277.7 293.1 279.4 295.0 280.0 C296.9 280.6 299.0 281.4 301.0 281.2 C303.0 281.0 305.2 279.6 307.0 279.0 C308.8 278.4 310.8 277.1 312.0 277.5 C313.2 277.9 314.1 279.4 314.5 281.5 C314.9 283.6 314.8 287.2 314.5 290.0 C314.2 292.8 313.8 295.4 313.0 298.0 C312.2 300.6 311.0 303.4 309.5 305.5 C308.0 307.6 305.9 309.4 304.0 310.5 C302.1 311.6 299.9 312.2 298.0 312.0 C296.1 311.8 294.1 311.0 292.5 309.5 C290.9 308.0 289.6 305.6 288.5 303.0 C287.4 300.4 286.6 297.0 286.0 294.0 C285.4 291.0 284.9 287.5 284.8 285.0 C284.7 282.5 284.7 280.2 285.5 279.0Z" fill="none" stroke="#2a1210" stroke-width="1.1" opacity="0.6"/>
</g></g>
<clipPath id="cD1"><rect x="215" y="323.7" width="51.5" height="39.1"/></clipPath>
<rect x="215" y="323.7" width="51.5" height="39.1" filter="url(#hD)"/>
<g clip-path="url(#cD1)"><g filter="url(#b1)">
<path d="M258.5 322 L268 322 L268 364 L262.5 364 C264 357 262.5 351 259.5 347 C262 341 258.5 335 259.5 329 Z" fill="#b2e2ec" opacity="0.97"/>
<ellipse cx="228" cy="343" rx="5" ry="5" fill="#d2528e" opacity="0.35"/>
</g></g>
<clipPath id="cD2"><rect x="272" y="323.7" width="52.2" height="39.1"/></clipPath>
<rect x="272" y="323.7" width="52.2" height="39.1" filter="url(#hC)"/>
<mask id="mD2" maskUnits="userSpaceOnUse" x="270" y="321" width="58" height="45"><g filter="url(#b1)">
<path d="M270 322 L287 322 C288 330 293 338 297 345 C294 350 291 356 292 364 L270 364 Z" fill="#fff"/>
<path d="M286 322 L326 322 L326 327 C316 328 306 329 296 331 Z" fill="#ccc"/>
<path d="M286 364 C290 357 297 352.5 304 351.5 C309 352.5 312 357 314 364 Z" fill="#eee"/>
</g></mask>
<g clip-path="url(#cD2)"><g mask="url(#mD2)">
<rect x="272" y="323.7" width="52.2" height="39.1" filter="url(#hP2)"/>
</g>
<g filter="url(#b1)">
<path d="M270 351 C276 354 281 358 284.5 364 L270 364 Z" fill="#a6e0e8"/>
<ellipse cx="303" cy="339" rx="2.5" ry="2.5" fill="#7a3a98" opacity="0.8"/>
<ellipse cx="296" cy="343" rx="2" ry="2" fill="#7a3a98" opacity="0.7"/>
</g></g>
<text x="4.2" y="393.1" font-size="21" font-weight="bold" fill="#000" class="pl">E</text>
<text x="124.5" y="408.6" font-size="12" text-anchor="middle" fill="#1d1d1d">MC38</text>
<line x1="77" y1="413" x2="172.5" y2="413" stroke="#7c7c7c" stroke-width="1.0"/>
<text x="126.8" y="427.4" font-size="14" text-anchor="middle" fill="#686868" class="st" letter-spacing="0.6">***</text>
<path d="M86.2 498 V428.8 H160.8 V431.3" fill="none" stroke="#1d1d1d" stroke-width="1.3"/>
<line x1="67.5" y1="436.4" x2="67.5" y2="549.6" stroke="#1d1d1d" stroke-width="1.3"/>
<line x1="66.9" y1="549" x2="181" y2="549" stroke="#1d1d1d" stroke-width="1.3"/>
<line x1="63.9" y1="437" x2="67.5" y2="437" stroke="#1d1d1d" stroke-width="1.3"/>
<text x="62.6" y="441.3" font-size="12" text-anchor="end" fill="#1d1d1d">0.8</text>
<line x1="63.9" y1="465" x2="67.5" y2="465" stroke="#1d1d1d" stroke-width="1.3"/>
<text x="62.6" y="469.3" font-size="12" text-anchor="end" fill="#1d1d1d">0.6</text>
<line x1="63.9" y1="493" x2="67.5" y2="493" stroke="#1d1d1d" stroke-width="1.3"/>
<text x="62.6" y="497.3" font-size="12" text-anchor="end" fill="#1d1d1d">0.4</text>
<line x1="63.9" y1="521" x2="67.5" y2="521" stroke="#1d1d1d" stroke-width="1.3"/>
<text x="62.6" y="525.3" font-size="12" text-anchor="end" fill="#1d1d1d">0.2</text>
<line x1="63.9" y1="549" x2="67.5" y2="549" stroke="#1d1d1d" stroke-width="1.3"/>
<text x="62.6" y="553.3" font-size="12" text-anchor="end" fill="#1d1d1d">0.0</text>
<text transform="translate(41,494) rotate(-90)" font-size="12" text-anchor="middle" fill="#1d1d1d">tumor weight (g)</text>
<rect x="74.3" y="526" width="25.700000000000003" height="23" fill="#000" stroke="#1d1d1d" stroke-width="1.2"/>
<line x1="87.15" y1="526" x2="87.15" y2="518.8" stroke="#1d1d1d" stroke-width="1.2"/>
<line x1="80.15" y1="518.8" x2="94.15" y2="518.8" stroke="#1d1d1d" stroke-width="1.2"/>
<rect x="112" y="536.8" width="25.5" height="12.200000000000045" fill="#d5d5d6" stroke="#1d1d1d" stroke-width="1.2"/>
<line x1="124.75" y1="536.8" x2="124.75" y2="528" stroke="#1d1d1d" stroke-width="1.2"/>
<line x1="118.25" y1="528" x2="131.25" y2="528" stroke="#1d1d1d" stroke-width="1.2"/>
<rect x="148.8" y="468.3" width="25.69999999999999" height="80.69999999999999" fill="#979ba2" stroke="#1d1d1d" stroke-width="1.2"/>
<line x1="161.65" y1="468.3" x2="161.65" y2="447.5" stroke="#1d1d1d" stroke-width="1.2"/>
<line x1="154.9" y1="447.5" x2="168.4" y2="447.5" stroke="#1d1d1d" stroke-width="1.2"/>
<text x="106.3" y="502.5" font-size="12.5" text-anchor="middle" fill="#1d1d1d" class="ns">n.s.</text>
<path d="M85.8 509.4 V507.0 Q85.8 506 86.8 506 H123.5 Q124.5 506 124.5 507.0 V509.4" fill="none" stroke="#4a4a4a" stroke-width="1.2"/>
<rect x="57.2" y="560.8" width="12.8" height="5.4" fill="#000" stroke="#000" stroke-width="1"/>
<rect x="57.4" y="572.4" width="12.4" height="6.0" fill="#d5d5d6" stroke="#1d1d1d" stroke-width="1.4"/>
<rect x="57.4" y="585.8" width="12.4" height="6.0" fill="#a0a3aa" stroke="#1d1d1d" stroke-width="1.4"/>
<text x="72.4" y="567.5" font-size="12" fill="#1d1d1d">Wt</text>
<text x="72.4" y="579.7" font-size="12" fill="#1d1d1d">NK1.1 depleted</text>
<text x="72.4" y="593.4" font-size="12" fill="#1d1d1d">CD8 depleted</text>
<text x="198.6" y="393" font-size="21" font-weight="bold" fill="#000" class="pl">F</text>
<text x="287.8" y="408.3" font-size="12" text-anchor="middle" fill="#1d1d1d">MC38</text>
<line x1="254.5" y1="413" x2="322.5" y2="413" stroke="#7c7c7c" stroke-width="1.0"/>
<text x="285" y="428.2" font-size="10" text-anchor="middle" fill="#1d1d1d">n.s.</text>
<path d="M269.3 435.6 V434.0 Q269.3 432.5 270.8 432.5 H305.3 Q306.8 432.5 306.8 434.0 V435.6" fill="none" stroke="#4a4a4a" stroke-width="0.8"/>
<line x1="250" y1="436.9" x2="250" y2="550.1" stroke="#1d1d1d" stroke-width="1.4"/>
<line x1="249.4" y1="549.5" x2="325.5" y2="549.5" stroke="#1d1d1d" stroke-width="1.4"/>
<line x1="246.2" y1="437.5" x2="250" y2="437.5" stroke="#1d1d1d" stroke-width="1.4"/>
<text x="243.8" y="441.8" font-size="12" text-anchor="end" fill="#1d1d1d">0.8</text>
<line x1="246.2" y1="465.5" x2="250" y2="465.5" stroke="#1d1d1d" stroke-width="1.4"/>
<text x="243.8" y="469.8" font-size="12" text-anchor="end" fill="#1d1d1d">0.6</text>
<line x1="246.2" y1="493.5" x2="250" y2="493.5" stroke="#1d1d1d" stroke-width="1.4"/>
<text x="243.8" y="497.8" font-size="12" text-anchor="end" fill="#1d1d1d">0.4</text>
<line x1="246.2" y1="521.5" x2="250" y2="521.5" stroke="#1d1d1d" stroke-width="1.4"/>
<text x="243.8" y="525.8" font-size="12" text-anchor="end" fill="#1d1d1d">0.2</text>
<line x1="246.2" y1="549.5" x2="250" y2="549.5" stroke="#1d1d1d" stroke-width="1.4"/>
<text x="243.8" y="553.8" font-size="12" text-anchor="end" fill="#1d1d1d">0.0</text>
<text transform="translate(223,493) rotate(-90)" font-size="12" text-anchor="middle" fill="#1d1d1d">tumor weight (g)</text>
<rect x="255.6" y="459.5" width="25.599999999999994" height="90.0" fill="#000" stroke="#1d1d1d" stroke-width="1.2"/>
<line x1="268.4" y1="459.5" x2="268.4" y2="449.3" stroke="#1d1d1d" stroke-width="1.2"/>
<line x1="261.9" y1="449.3" x2="274.9" y2="449.3" stroke="#1d1d1d" stroke-width="1.2"/>
<rect x="293.8" y="460.5" width="25.0" height="89.0" fill="#d5d5d6" stroke="#1d1d1d" stroke-width="1.2"/>
<line x1="306.3" y1="460.5" x2="306.3" y2="442.5" stroke="#1d1d1d" stroke-width="1.2"/>
<line x1="299.55" y1="442.5" x2="313.05" y2="442.5" stroke="#1d1d1d" stroke-width="1.2"/>
<rect x="214.5" y="565.6" width="12.4" height="6" fill="#000" stroke="#000" stroke-width="1"/>
<rect x="214.9" y="578.0" width="11.8" height="6.4" fill="#d5d5d6" stroke="#1d1d1d" stroke-width="1.5"/>
<text x="231.5" y="572.7" font-size="12" fill="#1d1d1d"><tspan font-style="italic">Stat5</tspan><tspan font-size="8.7" font-style="normal" letter-spacing="-0.25" dx="0.8" dy="-7.2">f/f</tspan></text>
<text x="231.5" y="586.1" font-size="12" fill="#1d1d1d"><tspan font-style="italic">Stat5</tspan><tspan font-size="8.7" font-style="normal" letter-spacing="-0.25" dx="0.8" dy="-7.2">f/f</tspan><tspan dx="3.6" dy="7.2" font-style="italic">Ncr1</tspan>-iCreTg</text>
<text x="334.6" y="394" font-size="21" font-weight="bold" fill="#000" class="pl">G</text>
<text x="372" y="411.6" font-size="12" fill="#1d1d1d"><tspan font-style="italic">Stat5</tspan><tspan font-size="8.7" font-style="normal" letter-spacing="-0.25" dx="2.4" dy="-6.2">f/f</tspan></text>
<text x="441.1" y="397.6" font-size="12" fill="#1d1d1d"><tspan font-style="italic">Stat5</tspan><tspan font-size="8.7" font-style="normal" letter-spacing="-0.25" dx="2.6" dy="-7.5">f/f</tspan></text>
<text x="441.6" y="411.2" font-size="12" fill="#1d1d1d"><tspan font-style="italic">Ncr1</tspan>-iCreTg</text>
<path d="M352.0 485.1 L353.0 483.9 L354.0 482.6 L355.0 481.5 L356.0 479.6 L357.0 478.3 L358.0 475.3 L359.0 474.7 L360.0 474.3 L361.0 472.5 L362.0 471.8 L363.0 469.2 L364.0 468.9 L365.0 467.4 L366.0 467.1 L367.0 467.0 L368.0 465.5 L369.0 465.8 L370.0 466.3 L371.0 468.2 L372.0 468.3 L373.0 467.2 L374.0 468.4 L375.0 466.6 L376.0 467.5 L377.0 466.1 L378.0 466.2 L379.0 468.6 L380.0 467.5 L381.0 467.9 L382.0 469.5 L383.0 469.1 L384.0 467.6 L385.0 469.1 L386.0 468.3 L387.0 468.9 L388.0 468.1 L389.0 470.0 L390.0 470.4 L391.0 472.0 L392.0 472.8 L393.0 472.0 L394.0 472.5 L395.0 472.5 L396.0 472.9 L397.0 472.2 L398.0 472.1 L399.0 472.2 L400.0 469.6 L401.0 469.7 L402.0 467.6 L403.2 462.5 L404.5 458.8 L405.5 449.0 L406.5 439.6 L407.5 432.5 L408.5 425.5 L409.8 421.4 L411.0 421.1 L412.0 421.9 L413.0 426.6 L414.5 445.8 L416.0 469.0 L417.5 485.2 L417.5 486 L352.0 486 Z" fill="#c6c6c6"/>
<path d="M362.0 485.5 L363.0 485.3 L364.0 485.0 L365.0 485.1 L366.0 484.7 L367.0 484.7 L368.0 484.6 L369.0 484.1 L370.0 484.0 L371.0 483.8 L372.0 483.3 L373.0 483.2 L374.0 483.1 L375.0 482.8 L376.0 482.8 L377.0 482.3 L378.0 482.2 L379.0 482.0 L380.0 482.0 L381.0 481.9 L382.0 481.4 L383.0 481.1 L384.0 480.6 L385.0 480.5 L386.0 479.8 L387.0 479.5 L388.0 479.4 L389.0 479.0 L390.0 478.4 L391.0 477.7 L392.0 477.3 L393.0 476.8 L394.0 474.8 L395.0 473.3 L396.0 470.7 L397.0 467.8 L398.0 464.1 L399.0 459.5 L400.3 453.5 L401.5 447.3 L402.8 440.4 L404.2 435.9 L405.6 431.5 L407.0 426.3 L408.3 422.6 L409.3 419.6 L410.3 417.7 L411.3 417.0 L412.3 417.4 L414.0 423.9 L415.0 429.8 L416.0 436.0 L417.4 443.4 L418.8 451.5 L419.9 459.0 L421.0 466.5 L422.0 470.4 L423.0 474.9 L424.0 478.6 L425.0 481.8 L426.0 483.7 L427.0 485.2 L428.4 485.5" fill="none" stroke="#222" stroke-width="0.9"/>
<rect x="350.8" y="415.8" width="77.80000000000001" height="70.39999999999998" fill="none" stroke="#222" stroke-width="1.0"/>
<line x1="400.8" y1="442.5" x2="426.6" y2="442.5" stroke="#444" stroke-width="0.8"/>
<line x1="400.8" y1="440.9" x2="400.8" y2="444.1" stroke="#444" stroke-width="0.8"/>
<line x1="426.6" y1="440.9" x2="426.6" y2="444.1" stroke="#444" stroke-width="0.8"/>
<text x="412" y="438.4" font-size="10.4" text-anchor="middle" fill="#1d1d1d">87.0</text>
<path d="M436.5 485.5 L437.8 483.3 L439.0 482.3 L440.0 479.5 L441.0 478.8 L442.0 475.1 L443.0 474.8 L444.0 472.4 L445.0 470.9 L446.0 469.4 L447.0 465.3 L448.0 463.8 L449.0 463.1 L450.0 460.1 L451.0 458.3 L452.0 456.9 L453.0 457.3 L454.0 456.0 L455.2 455.1 L456.5 452.7 L457.8 455.9 L459.0 456.0 L460.0 455.6 L461.0 456.5 L462.0 456.8 L463.0 456.7 L464.0 458.8 L465.0 459.1 L466.0 460.2 L467.0 461.7 L468.0 461.4 L469.0 461.6 L470.0 463.7 L471.0 464.9 L472.0 464.0 L473.0 465.7 L474.0 463.7 L475.0 464.7 L476.0 465.4 L477.0 468.2 L478.0 468.4 L479.0 469.2 L480.0 469.0 L481.2 469.7 L482.3 470.8 L483.5 469.0 L484.8 467.0 L486.0 464.7 L487.2 460.4 L488.5 456.0 L489.5 447.7 L490.5 439.7 L491.5 434.0 L492.5 427.1 L493.5 427.3 L494.5 423.6 L495.5 427.3 L496.5 431.5 L497.5 442.9 L498.5 451.5 L500.0 472.9 L501.5 485.4 L501.5 486 L436.5 486 Z" fill="#c6c6c6"/>
<path d="M449.0 485.5 L450.0 485.5 L451.0 485.2 L452.0 485.1 L453.0 484.8 L454.0 484.9 L455.0 484.4 L456.0 484.1 L457.0 483.9 L458.0 483.7 L459.0 483.4 L460.0 483.1 L461.0 482.8 L462.0 482.6 L463.0 482.3 L464.0 482.1 L465.0 481.7 L466.0 481.3 L467.0 480.9 L468.0 480.7 L469.0 480.2 L470.0 480.0 L471.0 479.7 L472.0 478.8 L473.0 478.0 L474.0 477.8 L475.0 477.2 L476.0 476.0 L477.0 475.4 L478.0 474.2 L479.0 473.9 L480.0 472.7 L481.0 471.5 L482.0 470.5 L483.2 466.2 L484.5 463.1 L485.5 456.8 L486.5 450.4 L487.5 443.4 L488.5 436.6 L489.5 432.2 L490.5 426.5 L491.5 423.7 L492.5 419.4 L494.0 417.1 L495.0 419.6 L496.0 421.5 L497.2 428.0 L498.5 434.0 L499.8 440.8 L501.0 448.5 L502.2 455.4 L503.5 462.5 L504.8 467.7 L506.0 473.6 L507.2 477.7 L508.5 481.3 L509.8 483.3 L511.0 484.9 L512.2 485.3 L513.5 485.5" fill="none" stroke="#222" stroke-width="0.9"/>
<rect x="435.4" y="415.8" width="78.39999999999998" height="70.39999999999998" fill="none" stroke="#222" stroke-width="1.0"/>
<line x1="485.4" y1="442.5" x2="513.6" y2="442.5" stroke="#444" stroke-width="0.8"/>
<line x1="485.4" y1="440.9" x2="485.4" y2="444.1" stroke="#444" stroke-width="0.8"/>
<line x1="513.6" y1="440.9" x2="513.6" y2="444.1" stroke="#444" stroke-width="0.8"/>
<text x="497.2" y="438.3" font-size="10.4" text-anchor="middle" fill="#1d1d1d">83.3</text>
<line x1="351" y1="491.8" x2="391" y2="491.8" stroke="#1d1d1d" stroke-width="1.0"/>
<path d="M395.8 491.8 L388.5 489 L390 491.8 L388.5 494.6 Z" fill="#1d1d1d"/>
<text x="351" y="502.6" font-size="12" fill="#1d1d1d">CD44</text>
<path d="M351.5 572.7 L352.7 572.0 L353.8 569.6 L355.0 564.8 L356.3 564.6 L357.7 560.2 L359.0 553.1 L360.2 555.9 L361.3 548.4 L362.5 545.8 L363.7 543.5 L364.8 541.6 L366.0 535.6 L367.5 534.2 L369.0 530.1 L370.5 523.1 L372.0 519.9 L373.2 514.8 L374.5 512.1 L376.0 507.0 L378.0 511.1 L380.0 519.8 L382.0 528.5 L384.0 548.0 L386.0 553.9 L387.5 553.4 L389.0 559.5 L390.2 560.2 L391.3 560.7 L392.5 562.4 L393.6 565.1 L394.8 564.7 L395.9 568.0 L397.0 569.1 L398.2 568.8 L399.5 572.1 L400.8 570.7 L402.0 572.2 L403.2 574.5 L404.5 573.9 L405.8 575.1 L407.0 576.0 L407.0 576.8 L351.5 576.8 Z" fill="#bdbdbd" stroke="#8a8a8a" stroke-width="0.6"/>
<path d="M351.5 575.6 L352.8 574.8 L354.1 575.8 L355.4 574.0 L356.7 574.3 L358.0 573.6 L359.1 573.5 L360.3 574.8 L361.4 571.9 L362.6 572.7 L363.7 571.7 L364.9 571.8 L366.0 573.7 L367.2 570.8 L368.4 571.2 L369.6 569.9 L370.8 570.6 L372.0 568.8 L373.3 566.1 L374.7 566.0 L376.0 564.5 L377.5 563.9 L379.0 559.5 L380.5 551.1 L382.0 549.4 L383.2 540.9 L384.5 537.1 L385.8 529.3 L387.0 525.3 L388.5 523.8 L390.0 517.1 L391.5 516.0 L393.0 513.1 L394.2 510.7 L395.5 510.2 L396.8 510.7 L398.0 514.9 L399.2 520.7 L400.5 519.8 L401.8 530.5 L403.0 529.9 L404.5 533.1 L406.0 538.2 L407.5 543.7 L409.0 545.6 L410.5 551.2 L412.0 554.3 L413.3 558.2 L414.7 558.7 L416.0 564.0 L417.3 563.4 L418.7 562.6 L420.0 567.1 L421.3 567.2 L422.7 569.6 L424.0 569.6 L425.1 571.4 L426.2 569.1 L427.4 570.3 L428.5 573.6" fill="none" stroke="#333" stroke-width="0.8"/>
<rect x="350.8" y="505.8" width="78.19999999999999" height="70.99999999999994" fill="none" stroke="#222" stroke-width="1.0"/>
<line x1="395.5" y1="540" x2="422.5" y2="540" stroke="#444" stroke-width="0.8"/>
<line x1="395.5" y1="538.4" x2="395.5" y2="541.6" stroke="#444" stroke-width="0.8"/>
<line x1="422.5" y1="538.4" x2="422.5" y2="541.6" stroke="#444" stroke-width="0.8"/>
<text x="410.3" y="535.8" font-size="10.4" text-anchor="middle" fill="#1d1d1d">79.6</text>
<path d="M438.0 575.1 L439.5 573.1 L441.0 570.8 L442.2 568.7 L443.3 563.7 L444.5 564.4 L445.7 559.4 L446.8 557.5 L448.0 554.5 L449.2 552.2 L450.3 545.0 L451.5 542.2 L452.7 540.3 L453.8 535.5 L455.0 532.5 L456.5 523.7 L458.0 520.7 L460.0 507.1 L461.5 509.3 L463.5 513.2 L465.5 522.2 L467.5 538.1 L469.5 546.3 L470.8 552.9 L472.0 559.0 L473.3 559.9 L474.7 561.7 L476.0 563.1 L477.2 567.2 L478.5 564.8 L479.8 565.9 L481.0 566.5 L482.2 570.2 L483.5 569.7 L484.8 571.3 L486.0 572.4 L487.2 571.9 L488.5 572.5 L489.8 573.4 L491.0 574.0 L492.3 575.5 L493.7 576.5 L495.0 576.5 L495.0 577.3 L438.0 577.3 Z" fill="#bdbdbd" stroke="#8a8a8a" stroke-width="0.6"/>
<path d="M452.0 575.7 L453.2 575.8 L454.4 575.1 L455.6 575.3 L456.8 575.4 L458.0 575.3 L459.1 573.6 L460.2 573.1 L461.4 571.8 L462.5 573.0 L464.0 567.6 L465.5 567.0 L466.8 557.7 L468.0 552.5 L469.2 550.5 L470.5 545.4 L471.8 542.8 L473.0 538.6 L474.5 531.1 L476.0 524.6 L477.5 523.1 L479.0 516.7 L480.5 512.0 L482.0 509.2 L483.2 507.0 L484.5 509.5 L486.5 510.7 L488.5 522.8 L490.5 536.9 L492.5 546.9 L493.8 551.4 L495.0 556.0 L496.5 561.1 L498.0 565.6 L499.5 568.3 L501.0 568.5 L502.2 570.0 L503.3 570.8 L504.5 573.3 L505.6 573.3 L506.8 575.8 L507.9 576.0 L509.0 575.4 L510.2 576.5 L511.5 576.5 L512.8 575.8 L514.0 576.5" fill="none" stroke="#333" stroke-width="0.8"/>
<rect x="437.3" y="505.8" width="76.99999999999994" height="71.49999999999994" fill="none" stroke="#222" stroke-width="1.0"/>
<line x1="482.5" y1="540.4" x2="509" y2="540.4" stroke="#444" stroke-width="0.8"/>
<line x1="482.5" y1="538.8" x2="482.5" y2="542.0" stroke="#444" stroke-width="0.8"/>
<line x1="509" y1="538.8" x2="509" y2="542.0" stroke="#444" stroke-width="0.8"/>
<text x="495.7" y="535.7" font-size="10.4" text-anchor="middle" fill="#1d1d1d">83.2</text>
<line x1="352" y1="581.8" x2="396" y2="581.8" stroke="#1d1d1d" stroke-width="1.0"/>
<path d="M401 581.8 L393.5 579 L395 581.8 L393.5 584.6 Z" fill="#1d1d1d"/>
<text x="352.5" y="594.3" font-size="12" fill="#1d1d1d">CD25</text>
<rect x="413" y="585" width="11.8" height="7.2" fill="#c9c9c9"/>
<text x="427.3" y="592.6" font-size="12" fill="#1d1d1d">Control</text>
<line x1="402.5" y1="604.4" x2="418.3" y2="604.4" stroke="#1d1d1d" stroke-width="1.4"/>
<text x="419.3" y="608.5" font-size="12" fill="#1d1d1d">+α CD3, α CD28</text>
</svg>
</body>
</html>
